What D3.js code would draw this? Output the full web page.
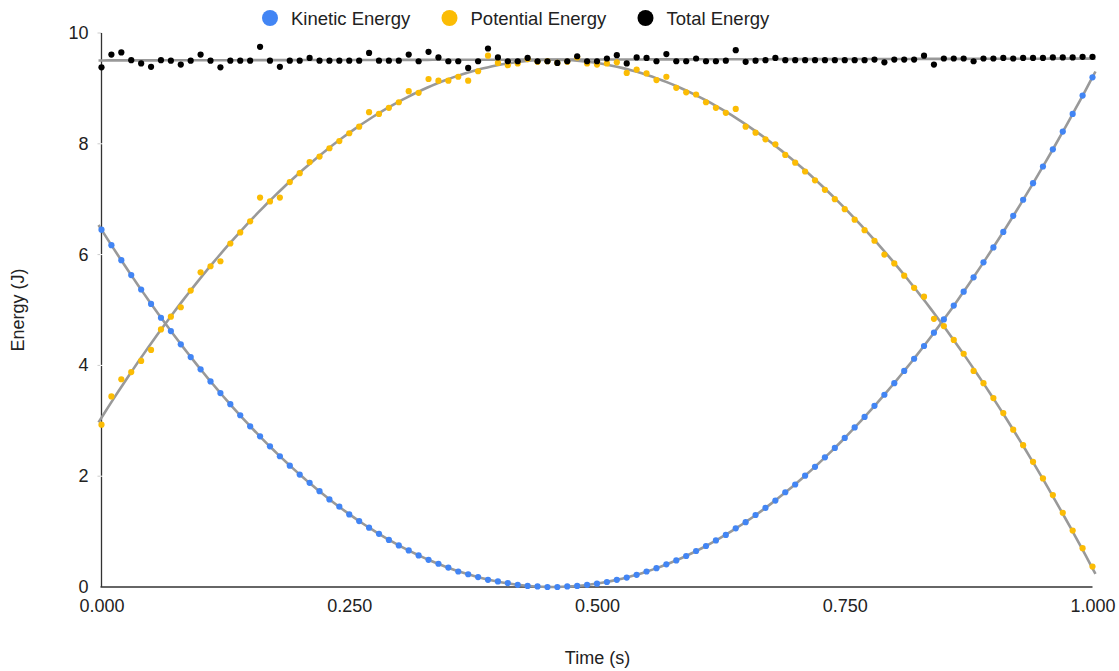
<!DOCTYPE html>
<html>
<head>
<meta charset="utf-8">
<script src="https://cdn.jsdelivr.net/npm/d3@7"></script>
<style>
  body { margin: 0; background: #fff; }
  svg text { font-family: "Liberation Sans", Arial, sans-serif; }
</style>
</head>
<body>
<div id="chart"></div>
<script>
// time in seconds, one sample every 0.01 s
var time = [0.00,0.01,0.02,0.03,0.04,0.05,0.06,0.07,0.08,0.09,
  0.10,0.11,0.12,0.13,0.14,0.15,0.16,0.17,0.18,0.19,
  0.20,0.21,0.22,0.23,0.24,0.25,0.26,0.27,0.28,0.29,
  0.30,0.31,0.32,0.33,0.34,0.35,0.36,0.37,0.38,0.39,
  0.40,0.41,0.42,0.43,0.44,0.45,0.46,0.47,0.48,0.49,
  0.50,0.51,0.52,0.53,0.54,0.55,0.56,0.57,0.58,0.59,
  0.60,0.61,0.62,0.63,0.64,0.65,0.66,0.67,0.68,0.69,
  0.70,0.71,0.72,0.73,0.74,0.75,0.76,0.77,0.78,0.79,
  0.80,0.81,0.82,0.83,0.84,0.85,0.86,0.87,0.88,0.89,
  0.90,0.91,0.92,0.93,0.94,0.95,0.96,0.97,0.98,0.99,
  1.00];

var kinetic = [6.45,6.17,5.90,5.63,5.37,5.11,4.86,4.62,4.38,4.15,
  3.93,3.71,3.50,3.30,3.10,2.90,2.72,2.54,2.36,2.19,
  2.03,1.88,1.73,1.58,1.45,1.31,1.19,1.07,0.96,0.85,
  0.75,0.66,0.57,0.49,0.42,0.35,0.28,0.23,0.18,0.13,
  0.10,0.07,0.04,0.02,0.01,0.00,0.00,0.01,0.02,0.04,
  0.06,0.09,0.13,0.17,0.22,0.28,0.34,0.41,0.48,0.56,
  0.65,0.74,0.84,0.94,1.06,1.17,1.30,1.43,1.56,1.71,
  1.85,2.01,2.17,2.34,2.51,2.69,2.88,3.07,3.27,3.47,
  3.68,3.90,4.12,4.35,4.59,4.83,5.08,5.33,5.59,5.86,
  6.13,6.41,6.70,6.99,7.29,7.59,7.90,8.22,8.54,8.87,
  9.20];

var potential = [2.93,3.44,3.75,3.88,4.08,4.28,4.65,4.88,5.05,5.35,
  5.68,5.79,5.88,6.20,6.40,6.60,7.03,6.96,7.03,7.31,
  7.47,7.67,7.77,7.92,8.05,8.19,8.31,8.57,8.54,8.65,
  8.75,8.95,8.92,9.17,9.14,9.14,9.21,9.14,9.31,9.59,
  9.46,9.42,9.45,9.53,9.48,9.49,9.46,9.48,9.56,9.45,
  9.43,9.45,9.47,9.28,9.34,9.27,9.15,9.21,9.01,8.93,
  8.89,8.75,8.65,8.56,8.63,8.31,8.20,8.08,7.99,7.80,
  7.66,7.50,7.34,7.17,7.00,6.82,6.63,6.44,6.25,6.00,
  5.84,5.62,5.40,5.24,4.84,4.71,4.46,4.21,3.90,3.68,
  3.41,3.14,2.84,2.56,2.26,1.96,1.66,1.34,1.02,0.70,
  0.37];

var total = [9.38,9.61,9.65,9.51,9.45,9.39,9.51,9.50,9.43,9.50,
  9.61,9.50,9.38,9.50,9.50,9.50,9.75,9.50,9.39,9.50,
  9.50,9.55,9.50,9.50,9.50,9.50,9.50,9.64,9.50,9.50,
  9.50,9.61,9.49,9.66,9.56,9.49,9.49,9.37,9.49,9.72,
  9.56,9.49,9.49,9.55,9.49,9.49,9.46,9.49,9.58,9.49,
  9.49,9.54,9.60,9.45,9.56,9.55,9.49,9.62,9.49,9.49,
  9.54,9.49,9.49,9.50,9.69,9.48,9.50,9.51,9.55,9.51,
  9.51,9.51,9.51,9.51,9.51,9.51,9.51,9.51,9.52,9.47,
  9.52,9.52,9.52,9.59,9.43,9.54,9.54,9.54,9.49,9.54,
  9.54,9.55,9.54,9.55,9.55,9.55,9.56,9.56,9.56,9.57,
  9.57];

var xTicks = [0, 0.25, 0.5, 0.75, 1];
var yTicks = [0, 2, 4, 6, 8, 10];

var series = [
  { name: "Kinetic Energy", values: kinetic, color: "#4285f4", degree: 2 },
  { name: "Potential Energy", values: potential, color: "#fbbc04", degree: 2 },
  { name: "Total Energy", values: total, color: "#000000", degree: 1 }
];

var width = 1119, height = 671;
var margin = { top: 33, right: 26.5, bottom: 84, left: 101.5 };

var svg = d3.select("#chart")
  .append("svg")
  .attr("width", width)
  .attr("height", height);

var xScale = d3.scaleLinear()
  .domain([0, 1])
  .range([margin.left, width - margin.right]);

var yScale = d3.scaleLinear()
  .domain([0, 10])
  .range([height - margin.bottom, margin.top]);

// least squares polynomial fit, used for the grey trendlines
function polyfit(xs, ys, deg) {
  var n = deg + 1;
  var A = [];
  for (var r = 0; r < n; r++) {
    A.push([]);
    for (var c = 0; c <= n; c++) A[r].push(0);
  }
  xs.forEach(function(xv, i) {
    for (var r = 0; r < n; r++) {
      for (var c = 0; c < n; c++) A[r][c] += Math.pow(xv, r + c);
      A[r][n] += ys[i] * Math.pow(xv, r);
    }
  });
  for (var p = 0; p < n; p++) {
    for (var r2 = p + 1; r2 < n; r2++) {
      var f = A[r2][p] / A[p][p];
      for (var c2 = p; c2 <= n; c2++) A[r2][c2] -= f * A[p][c2];
    }
  }
  var coef = new Array(n).fill(0);
  for (var k = n - 1; k >= 0; k--) {
    var s = A[k][n];
    for (var j = k + 1; j < n; j++) s -= A[k][j] * coef[j];
    coef[k] = s / A[k][k];
  }
  return function(t) {
    return coef.reduce(function(acc, cv, idx) { return acc + cv * Math.pow(t, idx); }, 0);
  };
}

// Y axis labels
var yAxis = d3.axisLeft(yScale)
  .tickValues(yTicks)
  .tickSize(0)
  .tickPadding(13);

var yG = svg.append("g")
  .attr("transform", `translate(${margin.left},0)`)
  .call(yAxis);
yG.select(".domain").remove();
yG.selectAll("text")
  .attr("font-size", "18px")
  .attr("dy", "0.3em")
  .attr("fill", "#222");

// X axis labels
var xAxis = d3.axisBottom(xScale)
  .tickValues(xTicks)
  .tickFormat(d3.format(".3f"))
  .tickSize(0)
  .tickPadding(12);

var xG = svg.append("g")
  .attr("transform", `translate(0,${height - margin.bottom})`)
  .call(xAxis);
xG.select(".domain").remove();
xG.selectAll("text")
  .attr("font-size", "18px")
  .attr("fill", "#222");

// small ticks left of the y axis
svg.selectAll("tickmarks")
  .data(yTicks.filter(d => d > 0))
  .enter()
  .append("line")
  .attr("x1", margin.left - 4)
  .attr("x2", margin.left)
  .attr("y1", d => yScale(d))
  .attr("y2", d => yScale(d))
  .attr("stroke", "#cccccc")
  .attr("stroke-width", 1);

// axis lines
svg.append("line")
  .attr("x1", margin.left)
  .attr("x2", margin.left)
  .attr("y1", yScale(10))
  .attr("y2", yScale(0))
  .attr("stroke", "#333")
  .attr("stroke-width", 1.3);

svg.append("line")
  .attr("x1", margin.left - 1)
  .attr("x2", width - margin.right)
  .attr("y1", yScale(0))
  .attr("y2", yScale(0))
  .attr("stroke", "#333")
  .attr("stroke-width", 1.6);

// white gridline stubs cutting the axis line
svg.selectAll("gridstub")
  .data(yTicks.filter(d => d > 0 && d < 10))
  .enter()
  .append("line")
  .attr("x1", margin.left - 1.5)
  .attr("x2", margin.left + 1.5)
  .attr("y1", d => yScale(d))
  .attr("y2", d => yScale(d))
  .attr("stroke", "#fff")
  .attr("stroke-width", 1);

// trendlines
var samples = d3.range(0, 201).map(i => -0.003 + i * (1.006 / 200));
var line = d3.line()
  .x(d => xScale(d[0]))
  .y(d => yScale(d[1]));

series.forEach(function(s) {
  var fit = polyfit(time, s.values, s.degree);
  svg.append("path")
    .datum(samples.map(t => [t, fit(t)]))
    .attr("d", line)
    .attr("fill", "none")
    .attr("stroke", "#999999")
    .attr("stroke-width", 2.6);
});

// points
series.forEach(function(s) {
  svg.append("g")
    .selectAll("circle")
    .data(s.values)
    .enter()
    .append("circle")
    .attr("cx", (d, i) => xScale(time[i]))
    .attr("cy", d => yScale(d))
    .attr("r", 3.1)
    .attr("fill", s.color);
});

// legend
var legendX = [270, 449.5, 645.5];
var legend = svg.selectAll("legend")
  .data(series)
  .enter()
  .append("g")
  .attr("transform", (d, i) => `translate(${legendX[i]},18)`);

legend.append("circle")
  .attr("r", 8)
  .attr("fill", d => d.color);

legend.append("text")
  .attr("x", 21)
  .attr("y", 6.5)
  .attr("font-size", "18.5px")
  .attr("fill", "#222")
  .text(d => d.name);

// axis titles
svg.append("text")
  .attr("x", (margin.left + width - margin.right) / 2 + 0.5)
  .attr("y", 664)
  .attr("text-anchor", "middle")
  .attr("font-size", "18px")
  .attr("fill", "#222")
  .text("Time (s)");

svg.append("text")
  .attr("text-anchor", "middle")
  .attr("transform", `translate(24,${(margin.top + height - margin.bottom) / 2}) rotate(-90)`)
  .attr("font-size", "18px")
  .attr("fill", "#222")
  .text("Energy (J)");
</script>
</body>
</html>
